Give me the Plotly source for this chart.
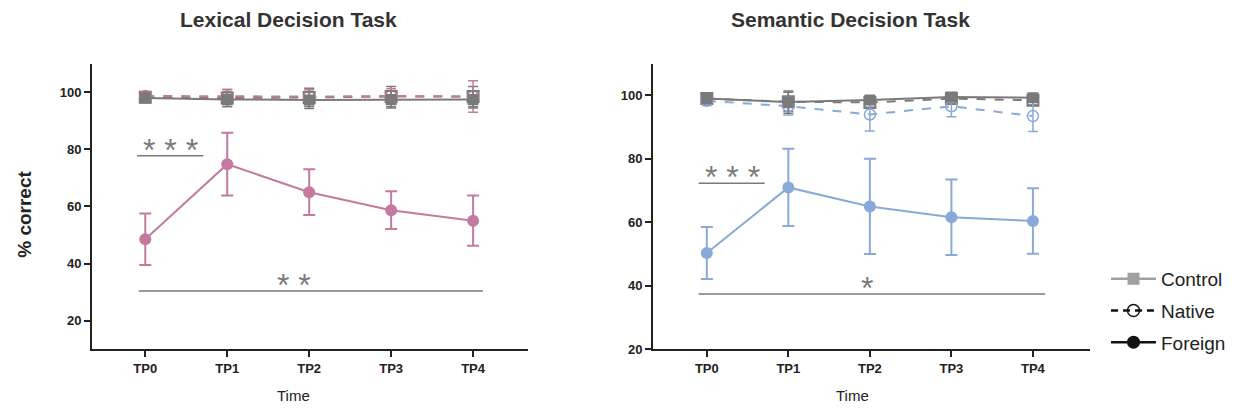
import plotly.graph_objects as go

W, H = 1238, 414

tp_labels = ["TP0", "TP1", "TP2", "TP3", "TP4"]
tp_x = [0, 1, 2, 3, 4]

# Lexical decision task
lex_ctrl_foreign = [98.0, 97.5, 97.3, 97.5, 97.5]
lex_ctrl_foreign_err = [1.5, 2.5, 3.0, 3.0, 3.0]
lex_ctrl_native = [98.3, 98.0, 98.2, 98.5, 98.5]
lex_ctrl_native_err = [1.5, 3.0, 3.2, 3.5, 3.5]
lex_native = [98.7, 98.5, 98.5, 98.7, 98.5]
lex_native_err = [1.0, 2.5, 2.5, 2.5, 5.5]
lex_foreign = [48.5, 74.8, 65.0, 58.7, 55.0]
lex_foreign_err = [9.0, 11.0, 8.0, 6.6, 8.8]

# Semantic decision task
sem_ctrl_foreign = [99.0, 97.9, 98.6, 99.5, 99.3]
sem_ctrl_foreign_err = [0.5, 3.5, 1.0, 1.0, 0.8]
sem_ctrl_native = [99.0, 98.0, 97.8, 99.0, 98.5]
sem_ctrl_native_err = [0.8, 3.0, 1.5, 1.5, 1.5]
sem_native = [98.3, 96.6, 94.0, 96.6, 93.5]
sem_native_err = [1.5, 2.8, 5.2, 3.3, 4.9]
sem_foreign = [50.3, 71.0, 65.0, 61.6, 60.4]
sem_foreign_err = [8.2, 12.2, 15.0, 11.9, 10.3]

# significance bars: (x start, x end, y, label, label x)
lex_sig = [(-0.1, 0.71, 77.8, "* * *", 0.31), (-0.08, 4.12, 30.4, "* *", 1.82)]
sem_sig = [(-0.1, 0.71, 72.3, "* * *", 0.31), (-0.1, 4.15, 37.4, "*", 1.96)]

titles = ["Lexical Decision Task", "Semantic Decision Task"]
legend_names = ["Control", "Native", "Foreign"]

GRAY = "#7A7A7A"
PINK = "#C47A9E"
BLUE = "#89A9D8"
AX = "#222222"

fig = go.Figure()


def add_panel(xa, ya, color, cf, cfe, cn, cne, nat, nate, fo, foe, sig):
    fig.add_trace(go.Scatter(
        x=tp_x, y=cn, xaxis=xa, yaxis=ya, mode="lines+markers",
        line=dict(color=GRAY, width=2, dash="dash"),
        marker=dict(symbol="square-open", size=11, color=GRAY, line=dict(width=2)),
        error_y=dict(type="data", array=cne, color=GRAY, thickness=1.5, width=5),
        showlegend=False, hoverinfo="skip"))
    fig.add_trace(go.Scatter(
        x=tp_x, y=nat, xaxis=xa, yaxis=ya, mode="lines+markers",
        line=dict(color=color, width=2, dash="dash"),
        marker=dict(symbol="circle-open", size=11, color=color, line=dict(width=1.5)),
        error_y=dict(type="data", array=nate, color=color, thickness=1.5, width=5),
        showlegend=False, hoverinfo="skip"))
    fig.add_trace(go.Scatter(
        x=tp_x, y=cf, xaxis=xa, yaxis=ya, mode="lines+markers",
        line=dict(color=GRAY, width=2),
        marker=dict(symbol="square", size=11, color=GRAY),
        error_y=dict(type="data", array=cfe, color=GRAY, thickness=1.5, width=5),
        showlegend=False, hoverinfo="skip"))
    fig.add_trace(go.Scatter(
        x=tp_x, y=fo, xaxis=xa, yaxis=ya, mode="lines+markers",
        line=dict(color=color, width=2),
        marker=dict(symbol="circle", size=12, color=color),
        error_y=dict(type="data", array=foe, color=color, thickness=2, width=6),
        showlegend=False, hoverinfo="skip"))
    for x0, x1, y, lab, lx in sig:
        fig.add_trace(go.Scatter(
            x=[x0, x1], y=[y, y], xaxis=xa, yaxis=ya, mode="lines",
            line=dict(color=GRAY, width=1.5), showlegend=False, hoverinfo="skip"))
        fig.add_annotation(
            x=lx, y=y, xref=xa, yref=ya.replace("axis", ""), text=lab,
            showarrow=False, yanchor="bottom", yshift=-14,
            font=dict(family="Liberation Sans", size=32, color=GRAY))


add_panel("x", "y", PINK, lex_ctrl_foreign, lex_ctrl_foreign_err,
          lex_ctrl_native, lex_ctrl_native_err, lex_native, lex_native_err,
          lex_foreign, lex_foreign_err, lex_sig)
add_panel("x2", "y2", BLUE, sem_ctrl_foreign, sem_ctrl_foreign_err,
          sem_ctrl_native, sem_ctrl_native_err, sem_native, sem_native_err,
          sem_foreign, sem_foreign_err, sem_sig)

# legend entries
fig.add_trace(go.Scatter(x=[None], y=[None], mode="lines+markers", name=legend_names[0],
                         line=dict(color="#A0A0A0", width=2.5),
                         marker=dict(symbol="square", size=12, color="#A0A0A0"),
                         legendgroup="a"))
fig.add_trace(go.Scatter(x=[None], y=[None], mode="lines+markers", name=legend_names[1],
                         line=dict(color="#111111", width=2.5, dash="7px,5px"),
                         marker=dict(symbol="circle-open", size=12, color="#111111", line=dict(width=1.5)),
                         legendgroup="b"))
fig.add_trace(go.Scatter(x=[None], y=[None], mode="lines+markers", name=legend_names[2],
                         line=dict(color="#111111", width=2.5),
                         marker=dict(symbol="circle", size=13, color="#111111"),
                         legendgroup="c"))

axis_common = dict(
    showline=True, linecolor=AX, linewidth=2, ticks="outside", ticklen=6,
    tickwidth=2, tickcolor=AX, showgrid=False, zeroline=False,
    tickfont=dict(family="Liberation Sans", size=13, color=AX, weight="bold"),
)

fig.update_layout(
    width=W, height=H, margin=dict(l=0, r=0, t=0, b=0),
    paper_bgcolor="white", plot_bgcolor="white",
    font=dict(family="Liberation Sans", color=AX),
    xaxis=dict(domain=[92 / W, 528 / W], range=[-0.65, 4.67], tickvals=tp_x,
               ticktext=tp_labels, anchor="y", **axis_common),
    yaxis=dict(domain=[(H - 356) / H, (H - 65) / H], range=[10, 110],
               tickvals=[20, 40, 60, 80, 100], anchor="x", **axis_common),
    xaxis2=dict(domain=[653 / W, 1090 / W], range=[-0.66, 4.70], tickvals=tp_x,
                ticktext=tp_labels, anchor="y2", **axis_common),
    yaxis2=dict(domain=[(H - 356) / H, (H - 65) / H], range=[20, 110],
                tickvals=[20, 40, 60, 80, 100], anchor="x2", **axis_common),
    legend=dict(x=1106 / W, y=1 - 265 / H, xanchor="left", yanchor="top",
                font=dict(family="Liberation Sans", size=19, color=AX),
                itemwidth=45, tracegroupgap=4, bgcolor="rgba(0,0,0,0)"),
)

for cx, t in zip([288, 850], titles):
    fig.add_annotation(x=cx / W, y=1 - 20 / H, xref="paper", yref="paper", text=t,
                       showarrow=False, xanchor="center", yanchor="middle",
                       font=dict(family="Liberation Sans", size=21, color="#333333", weight="bold"))
for cx in [293, 852]:
    fig.add_annotation(x=cx / W, y=1 - 403 / H, xref="paper", yref="paper", text="Time",
                       showarrow=False, xanchor="center", yanchor="middle",
                       font=dict(family="Liberation Sans", size=15, color=AX))
fig.add_annotation(x=25 / W, y=1 - 219 / H, xref="paper", yref="paper", text="% correct",
                   textangle=-90, showarrow=False, xanchor="center", yanchor="middle",
                   font=dict(family="Liberation Sans", size=19, color=AX, weight="bold"))

fig.write_html("out.html", config={"displayModeBar": False},
               post_script="document.body.style.margin='0';")
